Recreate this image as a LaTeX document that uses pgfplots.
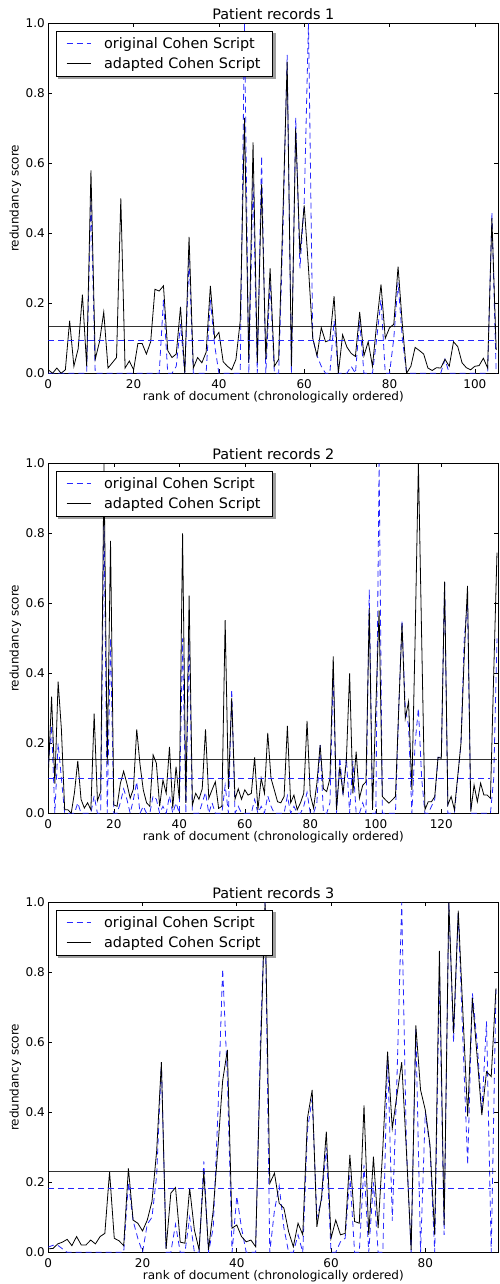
\documentclass[border=0pt]{standalone}
\usepackage{fontspec}
\setmainfont{DejaVu Sans}
\usepackage{pgfplots}
\usepackage{pgfplotstable}
\pgfplotsset{compat=1.18}
\definecolor{mblue}{rgb}{0.15,0.15,1}
\pgfdeclarelayer{bg}
\pgfsetlayers{bg,main}

\pgfplotstableread{
i orig adapt
0 0 0.01
1 0 0.0
2 0 0.015
3 0 0.0
4 0 0.01
5 0 0.15
6 0 0.02
7 0 0.07
8 0 0.225
9 0 0.02
10 0.50 0.58
11 0 0.04
12 0 0.09
13 0 0.175
14 0 0.015
15 0 0.03
16 0 0.045
17 0 0.50
18 0 0.015
19 0 0.035
20 0 0.01
21 0 0.085
22 0 0.085
23 0 0.055
24 0 0.09
25 0 0.24
26 0 0.235
27 0.21 0.25
28 0 0.065
29 0 0.045
30 0.02 0.055
31 0.14 0.19
32 0 0.0
33 0.33 0.39
34 0 0.015
35 0 0.045
36 0 0.03
37 0 0.06
38 0.21 0.25
39 0.08 0.10
40 0 0.117
41 0 0.033
42 0 0.02
43 0 0.01
44 0 0.04
45 0 0.15
46 1.0 0.73
47 0 0.03
48 0.55 0.66
49 0 0.03
50 0.62 0.54
51 0 0.04
52 0.26 0.30
53 0 0.02
54 0 0.04
55 0.40 0.45
56 0.91 0.89
57 0 0.02
58 0.73 0.70
59 0.30 0.34
60 0.49 0.48
61 1.0 0.30
62 0.10 0.10
63 0.05 0.05
64 0.02 0.13
65 0 0.09
66 0 0.095
67 0.15 0.22
68 0 0.0
69 0 0.11
70 0 0.075
71 0.02 0.057
72 0 0.048
73 0.15 0.175
74 0 0.05
75 0 0.09
76 0 0.02
77 0.10 0.143
78 0.21 0.254
79 0 0.10
80 0 0.13
81 0.10 0.14
82 0.26 0.305
83 0.10 0.14
84 0 0.0
85 0 0.02
86 0 0.074
87 0 0.065
88 0 0.055
89 0 0.015
90 0 0.008
91 0 0.016
92 0 0.015
93 0.04 0.04
94 0 0.02
95 0 0.09
96 0 0.076
97 0 0.03
98 0 0.016
99 0 0.01
100 0 0.02
101 0 0.022
102 0 0.043
103 0 0.015
104 0.46 0.443
105 0 0.067
}\tableA

\pgfplotstableread{
i orig adapt
0 0.14 0.11
1 0.25 0.333
2 0 0.085
3 0.20 0.376
4 0.10 0.24
5 0 0.01
6 0 0.01
7 0 0.0
8 0 0.06
9 0.03 0.15
10 0 0.04
11 0 0.015
12 0 0.03
13 0 0.01
14 0.05 0.285
15 0 0.036
16 0 0.062
17 0.85 1.0
18 0 0.14
19 0.50 0.778
20 0 0.024
21 0 0.02
22 0.03 0.085
23 0.07 0.12
24 0.04 0.085
25 0 0.043
26 0.04 0.07
27 0.09 0.24
28 0 0.14
29 0.02 0.067
30 0 0.03
31 0 0.02
32 0.05 0.167
33 0.04 0.143
34 0 0.02
35 0.02 0.095
36 0 0.057
37 0.05 0.19
38 0 0.015
39 0.03 0.133
40 0 0.04
41 0.50 0.80
42 0 0.03
43 0.50 0.622
44 0 0.024
45 0 0.057
46 0 0.04
47 0.03 0.07
48 0.06 0.24
49 0 0.043
50 0.03 0.067
51 0 0.09
52 0 0.014
53 0 0.02
54 0.08 0.552
55 0 0.07
56 0.355 0.33
57 0 0.04
58 0.02 0.07
59 0 0.04
60 0 0.067
61 0 0.052
62 0 0.057
63 0.04 0.16
64 0 0.01
65 0.02 0.10
66 0 0.057
67 0.05 0.23
68 0.02 0.10
69 0 0.067
70 0 0.033
71 0 0.03
72 0 0.048
73 0.05 0.25
74 0 0.03
75 0.02 0.052
76 0 0.01
77 0 0.03
78 0.02 0.057
79 0.06 0.264
80 0 0.052
81 0 0.015
82 0.03 0.085
83 0.198 0.195
84 0 0.07
85 0 0.062
86 0.03 0.10
87 0.40 0.448
88 0 0.01
89 0.16 0.133
90 0.05 0.057
91 0.16 0.15
92 0 0.40
93 0.15 0.057
94 0 0.176
95 0 0.043
96 0.03 0.08
97 0 0.09
98 0.64 0.586
99 0 0.01
100 0 0.30
101 1.0 0.58
102 0 0.048
103 0 0.038
104 0 0.029
105 0 0.038
106 0 0.048
107 0.30 0.30
108 0.55 0.543
109 0.30 0.271
110 0.25 0.319
111 0 0.067
112 0.20 0.50
113 0.30 1.0
114 0.10 0.50
115 0 0.01
116 0 0.033
117 0.02 0.033
118 0.04 0.048
119 0.16 0.16
120 0.16 0.157
121 0.66 0.662
122 0 0.024
123 0 0.048
124 0 0.01
125 0.10 0.105
126 0.20 0.20
127 0.50 0.45
128 0.60 0.65
129 0 0.005
130 0 0.081
131 0 0.033
132 0 0.086
133 0 0.052
134 0 0.052
135 0 0.043
136 0.10 0.40
137 0.50 0.745
}\tableB

\pgfplotstableread{
i orig adapt
0 0.015 0.01
1 0.02 0.011
2 0.02 0.024
3 0.01 0.029
4 0 0.037
5 0 0.019
6 0 0.045
7 0 0.021
8 0 0.021
9 0 0.035
10 0 0.024
11 0 0.045
12 0 0.054
13 0 0.23
14 0 0.04
15 0 0.033
16 0 0.019
17 0.20 0.24
18 0.09 0.092
19 0.04 0.083
20 0 0.061
21 0.08 0.092
22 0.10 0.145
23 0.22 0.29
24 0.54 0.543
25 0 0.01
26 0 0.169
27 0.08 0.185
28 0 0.029
29 0 0.026
30 0.10 0.183
31 0 0.064
32 0 0.007
33 0.26 0.23
34 0 0.007
35 0.07 0.12
36 0.40 0.30
37 0.81 0.49
38 0.50 0.578
39 0 0.069
40 0.16 0.078
41 0.07 0.045
42 0 0.03
43 0 0.035
44 0 0.016
45 0.60 0.55
46 1.0 1.0
47 0 0.197
48 0.12 0.226
49 0.19 0.14
50 0.07 0.126
51 0 0.059
52 0 0.016
53 0.05 0.083
54 0 0.05
55 0.35 0.383
56 0.44 0.464
57 0.10 0.073
58 0.15 0.159
59 0.30 0.345
60 0 0.04
61 0 0.092
62 0.03 0.05
63 0.04 0.054
64 0.22 0.278
65 0 0.088
66 0 0.083
67 0.25 0.42
68 0 0.05
69 0.20 0.273
70 0 0.069
71 0 0.30
72 0.57 0.573
73 0.09 0.354
74 0.50 0.45
75 1.0 0.543
76 0.30 0.29
77 0 0.007
78 0.64 0.648
79 0 0.464
80 0.40 0.407
81 0.30 0.307
82 0 0.05
83 0.80 0.861
84 0.05 0.078
85 1.0 1.0
86 0.60 0.626
87 0.97 0.976
88 0.60 0.68
89 0.25 0.388
90 0.74 0.726
91 0.60 0.56
92 0.40 0.392
93 0.66 0.516
94 0 0.502
95 0.75 0.754
}\tableC

\pgfplotsset{
  myaxis/.style={
    scale only axis,
    width=450pt, height=350pt,
    anchor=south west,
    ymin=0, ymax=1, xmin=0,
    ytick={0,0.2,0.4,0.6,0.8,1.0},
    tick align=inside,
    axis line style={line width=0.8pt},
    major tick style={line width=0.6pt, black},
    major tick length=4pt,
    /pgf/number format/assume math mode=true,
    yticklabel style={/pgf/number format/.cd, fixed, fixed zerofill, precision=1},
    ticklabel style={font=\fontsize{12}{14}\selectfont},
    xticklabel style={anchor=center, yshift=-11pt},
    label style={font=\fontsize{12}{14}\selectfont},
    xlabel={rank of document (chronologically ordered)},
    ylabel={redundancy score},
    xlabel style={at={(axis description cs:0.5,-0.0686)}, anchor=center},
    ylabel style={at={(axis description cs:-0.0734,0.5)}, anchor=center},
    title style={at={(axis description cs:0.5,1.0257)}, anchor=center, yshift=-6pt, font=\fontsize{14.4}{17}\selectfont},
    legend style={at={(axis description cs:0.017,0.978)}, anchor=north west,
      draw=black, line width=0.8pt, fill=white,
      font=\fontsize{14.4}{17}\selectfont, row sep=3.7pt, column sep=11pt,
      inner xsep=10pt, inner ysep=4pt,
      nodes={inner sep=2pt}},
    legend cell align=left,
    legend image code/.code={\draw[##1] (0pt,0pt) -- (24pt,0pt);},
  },
  origline/.style={mblue, line width=0.8pt, dash pattern=on 6pt off 4pt},
  adaptline/.style={black, line width=0.8pt},
}
\tikzset{legshadow/.style={fill=gray!75, draw=none}}

\begin{document}
\begin{tikzpicture}
\useasboundingbox (0,0) rectangle (499pt,1284pt);

\begin{axis}[myaxis, at={(48.3pt,910.7pt)}, xmax=105.5, xtick={0,20,40,60,80,100},
  title={Patient records 1}, legend style={name=legA}]
\addplot[origline] table[x=i,y=orig]{\tableA};
\addlegendentry{original Cohen Script}
\addplot[adaptline] table[x=i,y=adapt]{\tableA};
\addlegendentry{adapted Cohen Script}
\addplot[origline, forget plot] coordinates {(0,0.095) (105,0.095)};
\addplot[adaptline, forget plot, draw opacity=0.8] coordinates {(0,0.133) (105.5,0.133)};
\end{axis}

\begin{axis}[myaxis, at={(48.3pt,470.7pt)}, xmax=137.4, xtick={0,20,40,60,80,100,120},
  title={Patient records 2}, legend style={name=legB}]
\addplot[origline] table[x=i,y=orig]{\tableB};
\addlegendentry{original Cohen Script}
\addplot[adaptline] table[x=i,y=adapt]{\tableB};
\addlegendentry{adapted Cohen Script}
\addplot[origline, forget plot] coordinates {(0,0.10) (135,0.10)};
\addplot[adaptline, forget plot, draw opacity=0.8] coordinates {(0,0.155) (137,0.155)};
\end{axis}

\begin{axis}[myaxis, at={(48.3pt,31.7pt)}, xmax=95.5, xtick={0,20,40,60,80},
  title={Patient records 3}, legend style={name=legC}]
\addplot[origline] table[x=i,y=orig]{\tableC};
\addlegendentry{original Cohen Script}
\addplot[adaptline] table[x=i,y=adapt]{\tableC};
\addlegendentry{adapted Cohen Script}
\addplot[origline, forget plot] coordinates {(0,0.183) (94,0.183)};
\addplot[adaptline, forget plot, draw opacity=0.8] coordinates {(0,0.232) (95,0.232)};
\end{axis}

\begin{pgfonlayer}{bg}
\foreach \L in {legA,legB,legC}{
  \fill[legshadow] ([xshift=2.5pt,yshift=-2.5pt]\L.south west) rectangle ([xshift=2.5pt,yshift=-2.5pt]\L.north east);
}
\end{pgfonlayer}
\end{tikzpicture}
\end{document}
